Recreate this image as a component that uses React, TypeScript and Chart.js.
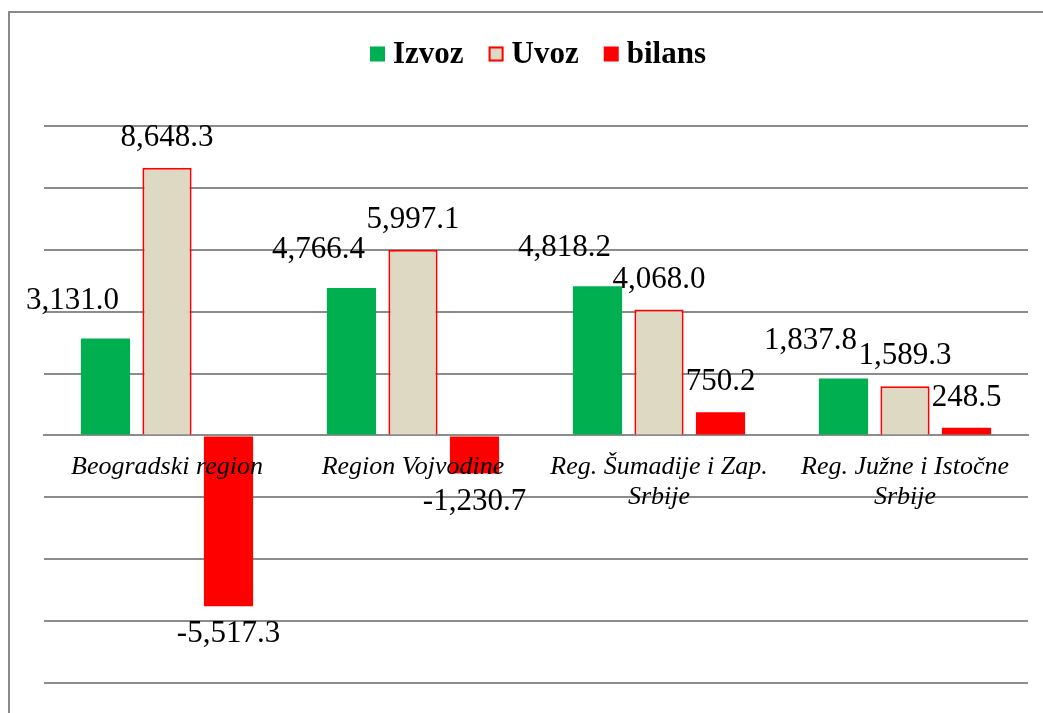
import React, { useEffect, useRef } from "react";
import { Chart, registerables } from "chart.js";

Chart.register(...registerables);

const categories: (string | string[])[] = [
  "Beogradski region",
  "Region Vojvodine",
  ["Reg. Šumadije i Zap.", "Srbije"],
  ["Reg. Južne i Istočne", "Srbije"],
];
const izvoz = [3131.0, 4766.4, 4818.2, 1837.8];
const uvoz = [8648.3, 5997.1, 4068.0, 1589.3];
const bilans = [-5517.3, -1230.7, 750.2, 248.5];
const seriesNames = ["Izvoz", "Uvoz", "bilans"];

const SERIF = "'Times New Roman', 'Liberation Serif', serif";

const fmt = (v: number) =>
  v.toLocaleString("en-US", { minimumFractionDigits: 1, maximumFractionDigits: 1 });

export default function App() {
  const ref = useRef<HTMLCanvasElement | null>(null);

  useEffect(() => {
    if (!ref.current) return;

    const labelShift = [
      { dx: -33, dy: -8 },
      { dx: 0, dy: 0 },
      { dx: 0, dy: 0 },
    ];

    const framePlugin = {
      id: "frame",
      beforeDraw(chart: any) {
        const ctx = chart.ctx;
        ctx.save();
        ctx.fillStyle = "#fff";
        ctx.fillRect(0, 0, chart.width, chart.height);
        ctx.strokeStyle = "#8a8a8a";
        ctx.lineWidth = 2;
        ctx.beginPath();
        ctx.moveTo(9, chart.height + 2);
        ctx.lineTo(9, 12);
        ctx.lineTo(chart.width + 2, 12);
        ctx.stroke();
        ctx.restore();
      },
    };

    const legendPlugin = {
      id: "customLegend",
      afterDraw(chart: any) {
        const ctx = chart.ctx;
        ctx.save();
        ctx.font = `bold 31px ${SERIF}`;
        ctx.textBaseline = "middle";
        const box = 15;
        const gapText = 8;
        const gapItem = 25;
        const widths = seriesNames.map((n) => ctx.measureText(n).width);
        const total =
          widths.reduce((a: number, b: number) => a + b, 0) +
          seriesNames.length * (box + gapText) +
          gapItem * (seriesNames.length - 1);
        let x = 538 - total / 2;
        const cy = 54;
        chart.data.datasets.forEach((ds: any, i: number) => {
          ctx.fillStyle = ds.backgroundColor;
          ctx.fillRect(x, cy - box / 2, box, box);
          if (ds.borderWidth) {
            ctx.strokeStyle = ds.borderColor;
            ctx.lineWidth = 2;
            ctx.strokeRect(x + 1, cy - box / 2 + 1, box - 2, box - 2);
          }
          x += box + gapText;
          ctx.fillStyle = "#000";
          ctx.fillText(seriesNames[i], x, cy + 1);
          x += widths[i] + gapItem;
        });
        ctx.restore();
      },
    };

    const valuePlugin = {
      id: "values",
      afterDatasetsDraw(chart: any) {
        const ctx = chart.ctx;
        ctx.save();
        ctx.font = `31px ${SERIF}`;
        ctx.fillStyle = "#000";
        ctx.textAlign = "center";
        ctx.textBaseline = "middle";
        chart.data.datasets.forEach((ds: any, di: number) => {
          const meta = chart.getDatasetMeta(di);
          meta.data.forEach((el: any, i: number) => {
            const v = ds.data[i];
            const s = labelShift[di];
            const y = v >= 0 ? el.y - 30 + s.dy : el.y + 28 - s.dy;
            ctx.fillText(fmt(v), el.x + s.dx, y);
          });
        });
        ctx.restore();
      },
    };

    const chart = new Chart(ref.current, {
      type: "bar",
      data: {
        labels: categories,
        datasets: [
          {
            label: seriesNames[0],
            data: izvoz,
            backgroundColor: "#00B050",
            borderWidth: 0,
          },
          {
            label: seriesNames[1],
            data: uvoz,
            backgroundColor: "#DDD9C3",
            borderColor: "#FF0000",
            borderWidth: 2,
          },
          {
            label: seriesNames[2],
            data: bilans,
            backgroundColor: "#FF0000",
            borderWidth: 0,
          },
        ],
      },
      options: {
        responsive: false,
        maintainAspectRatio: false,
        animation: false,
        layout: { padding: { left: 44, right: 15, top: 126, bottom: 30 } },
        datasets: { bar: { categoryPercentage: 0.75, barPercentage: 0.8 } },
        plugins: {
          legend: { display: false },
          tooltip: { enabled: false },
          title: { display: false },
        },
        scales: {
          x: {
            position: { y: 0 } as any,
            grid: { display: false, drawTicks: false },
            border: { display: true, color: "#8c8c8c", width: 2 },
            ticks: {
              z: 1,
              color: "#000",
              padding: 17,
              maxRotation: 0,
              autoSkip: false,
              font: { family: SERIF, size: 26, style: "italic", lineHeight: 1.15 },
            },
          },
          y: {
            min: -8000,
            max: 10000,
            ticks: { display: false, stepSize: 2000 },
            border: { display: false },
            grid: { color: "#8c8c8c", lineWidth: 2, drawTicks: false },
            afterFit(scale: any) {
              scale.width = 0;
            },
          },
        },
      },
      plugins: [framePlugin, valuePlugin, legendPlugin],
    });

    return () => chart.destroy();
  }, []);

  return (
    <canvas
      ref={ref}
      width={1043}
      height={713}
      style={{ position: "absolute", left: 0, top: 0, display: "block" }}
    />
  );
}
